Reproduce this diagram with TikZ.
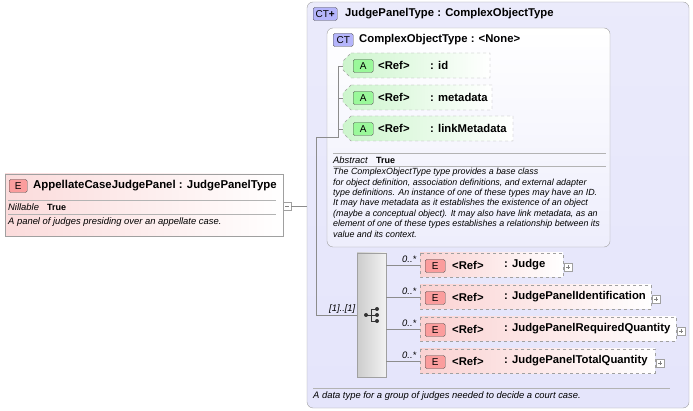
\documentclass[tikz,border=0pt]{standalone}
\usepackage{fontspec}
\setmainfont{Liberation Sans}
\usetikzlibrary{shapes.geometric}
\definecolor{bd}{RGB}{160,160,160}
\definecolor{lav}{RGB}{226,226,250}
\definecolor{elr}{RGB}{250,210,210}
\definecolor{atg}{RGB}{205,245,205}
\tikzset{x=1pt,y=-1pt,
 ttl/.style={font=\fontsize{11.3}{13}\selectfont\bfseries,anchor=west,inner sep=0},
 sm/.style={font=\fontsize{9.4}{11}\selectfont\itshape,anchor=west,inner sep=0},
 smb/.style={font=\fontsize{9}{10}\selectfont\bfseries,anchor=west,inner sep=0},
 badge/.style={draw=black!70,rounded corners=1.5,font=\fontsize{10}{11}\selectfont,inner sep=0,minimum height=13},
 con/.style={draw=black!45,line width=0.5},
 el/.style={draw=bd,dashed,left color=elr,right color=white},
 plus/.style={draw=bd,fill=white,minimum size=8,inner sep=0},
}
\begin{document}
\begin{tikzpicture}
\useasboundingbox (0,0) rectangle (693,411);
% outer
\draw[bd,rounded corners=6,top color=lav!70,bottom color=lav!90] (307,2) rectangle (689,408);
\node[badge,fill=lav!80!blue,minimum width=24,anchor=west] (b1) at (313,14) {CT\textbf{+}};
\node[ttl] (t1) at (345,14) {JudgePanelType : ComplexObjectType};
% inner CT
\draw[bd,rounded corners=6,top color=white,bottom color=lav!60] (327,28) rectangle (610,247);
\node[badge,fill=lav!80!blue,minimum width=20,anchor=west] (b2) at (333,40) {CT};
\node[ttl] (t2) at (359,40) {ComplexObjectType : <None>};
% attributes
\foreach \n/\y/\w/\lab in {id/53/490/id,md/85/492/metadata,lm/116/513/linkMetadata}{
 \draw[bd,dashed,left color=atg,right color=white] (351,\y)--(\w,\y)--(\w,\y+25)--(351,\y+25)--(343,\y+17)--(343,\y+8)--cycle;
 \node[badge,fill=green!25!atg,minimum width=20,anchor=west] (a\n) at (353,\y+13) {A};
 \node[ttl] (r\n) at (378,\y+12) {<Ref>};
 \node[ttl] (n\n) at (430,\y+12) {: \lab};
 \coordinate (s\n) at (343,\y+13);
 \draw[con] (338,\y+13) -- (s\n);
}
\draw[con] (338,66) -- (338,137) -- (316,137) -- (316,315);
\draw[bd!80] (333,153)--(606,153) (333,166)--(606,166);
\node[sm] (ab) at (333,160) {Abstract};
\node[smb] (abt) at (376,160) {True};
\node[sm,anchor=north west,align=left,font=\fontsize{8.9}{10.4}\selectfont\itshape] (desc) at (333,168) {The ComplexObjectType type provides a base class\\for object definition, association definitions, and external adapter\\type definitions. An instance of one of these types may have an ID.\\It may have metadata as it establishes the existence of an object\\(maybe a conceptual object). It may also have link metadata, as an\\element of one of these types establishes a relationship between its\\value and its context.};
% sequence
\node[draw=bd,left color=black!20,right color=black!5,minimum width=29,minimum height=124,inner sep=0] (seq) at (371.5,315) {};
\draw[con] (316,315) -- (seq.west);
\node[sm] (mult) at (329,309) {[1]..[1]};
\draw[black!80,line width=0.8] (366,315)--(371,315) (371,309)--(371,321) (371,309)--(377,309) (371,315)--(377,315) (371,321)--(377,321);
\fill[black!80] (366,315) circle (2) (377,309) circle (2) (377,315) circle (2) (377,321) circle (2);
% elements
\foreach \n/\y/\w/\lab in {j/253/563/Judge,ji/285/651/JudgePanelIdentification,jr/317/676/JudgePanelRequiredQuantity,jt/349/655/JudgePanelTotalQuantity}{
 \draw[el] (420,\y) rectangle (\w,\y+24);
 \node[badge,fill=red!25!elr,minimum width=20,anchor=west] (e\n) at (425,\y+13) {E};
 \node[ttl] (r\n) at (452,\y+12) {<Ref>};
 \node[ttl] (n\n) at (504,\y+12) {: \lab};
 \node[plus] (p\n) at (\w+5,\y+14) {};
 \draw[black!50,line width=0.4] (\w+3,\y+14)--(\w+7,\y+14) (\w+5,\y+12)--(\w+5,\y+16);
 \coordinate (c\n) at (420,\y+12);
 \draw[con] (386,\y+12) -- (c\n);
 \node[sm] (m\n) at (402,\y+6) {0..*};
}
\draw[bd!80] (313,388)--(670,388);
\node[sm] (bot) at (313,396) {A data type for a group of judges needed to decide a court case.};
% left element
\draw[bd,left color=elr!80,right color=white] (5,174) rectangle (283,236);
\node[badge,fill=red!25!elr,minimum width=18,anchor=west] (e0) at (9,186) {E};
\node[ttl,font=\fontsize{11.4}{13}\selectfont\bfseries] (t0) at (33,186) {AppellateCaseJudgePanel : JudgePanelType};
\draw[bd!80] (8,200)--(276,200) (8,214)--(276,214);
\node[sm] (nl) at (8,207) {Nillable};
\node[smb] (nlt) at (47,207) {True};
\node[sm] (d0) at (8,222) {A panel of judges presiding over an appellate case.};
\node[plus] (mn) at (287,206) {};
\draw[black!50,line width=0.4] (285,206)--(289,206);
\draw[con] (mn.east) -- (307,206);
\end{tikzpicture}
\end{document}
